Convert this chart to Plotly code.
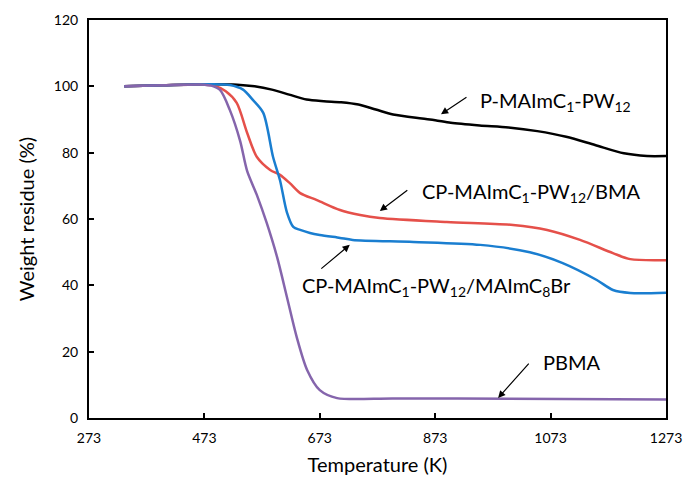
import plotly.graph_objects as go

# ---- data ----
t_black = [334, 400, 473, 530, 560, 590, 620, 650, 680, 710, 740, 770, 800, 850, 873, 900, 950, 1000, 1050, 1100, 1150, 1200, 1240, 1273]
w_black = [100, 100.3, 100.6, 100.5, 100, 99, 97.5, 96, 95.5, 95.2, 94.5, 93, 91.5, 90.3, 89.8, 89, 88.2, 87.6, 86.5, 84.8, 82.3, 79.8, 79, 79]

t_red = [334, 400, 473, 490, 510, 529, 547, 564, 587, 604, 621, 639, 668, 708, 743, 777, 893, 1008, 1067, 1124, 1181, 1211, 1273]
w_red = [100, 100.3, 100.5, 100.2, 98.5, 95, 86, 78.7, 74.8, 73.3, 70.8, 67.8, 65.7, 62.7, 61.2, 60.3, 59.1, 58.2, 56.7, 53.7, 49.7, 47.9, 47.6]

t_blue = [334, 400, 473, 517, 540, 557, 575, 592, 604, 616, 627, 639, 656, 673, 708, 730, 835, 951, 1037, 1094, 1153, 1181, 1211, 1273]
w_blue = [100, 100.3, 100.6, 100.4, 99, 95.9, 92, 78.7, 71.7, 62, 57.6, 56.7, 55.8, 55.2, 54.3, 53.7, 53.1, 52.2, 50, 46.7, 41.6, 38.6, 37.7, 37.8]

t_purple = [334, 400, 473, 485, 500, 517, 535, 547, 564, 581, 599, 616, 633, 651, 673, 703, 800, 1000, 1273]
w_purple = [100, 100.3, 100.5, 100.2, 98.9, 92.9, 83.5, 74.5, 67.2, 58.8, 48.5, 36.5, 24.4, 14.5, 8.4, 6.0, 5.9, 5.8, 5.6]

x_ticks = [273, 473, 673, 873, 1073, 1273]
y_ticks = [0, 20, 40, 60, 80, 100, 120]

FONT = "Lato"

fig = go.Figure()
for t, w, c in [(t_black, w_black, "#000000"),
                (t_red, w_red, "#E5504A"),
                (t_blue, w_blue, "#1A7ED0"),
                (t_purple, w_purple, "#8565AC")]:
    fig.add_trace(go.Scatter(x=t, y=w, mode="lines",
                             line=dict(color=c, width=2.5, shape="spline", smoothing=0.8),
                             showlegend=False, hoverinfo="skip"))

# labels
labels = [
    ("P-MAImC<sub>1</sub>-PW<sub>12</sub>", 947, 95.3),
    ("CP-MAImC<sub>1</sub>-PW<sub>12</sub>/BMA", 847, 68.1),
    ("CP-MAImC<sub>1</sub>-PW<sub>12</sub>/MAImC<sub>8</sub>Br", 639, 39.8),
    ("PBMA", 1056, 16.9),
]
for txt, x, y in labels:
    fig.add_annotation(x=x, y=y, text=txt, showarrow=False, xanchor="left", yanchor="middle",
                       font=dict(family=FONT, size=20, color="#000000"))

# arrows (tip at data point, tail offset in pixels)
arrows = [(883, 91.6, 27, -18), (777, 62.4, 29, -22), (725, 52.2, -30, 25), (982, 6.0, 32, -36)]
for x, y, ax, ay in arrows:
    fig.add_annotation(x=x, y=y, ax=ax, ay=ay, text="", showarrow=True,
                       arrowhead=2, arrowsize=1.2, arrowwidth=1.2, arrowcolor="#000000")

fig.update_layout(
    width=684, height=482,
    margin=dict(l=89, r=18, t=20, b=64),
    plot_bgcolor="white", paper_bgcolor="white",
    font=dict(family=FONT, color="#000000"),
    xaxis=dict(range=[273, 1273], tickvals=x_ticks, ticktext=[str(v) for v in x_ticks],
               ticks="inside", ticklen=5, tickwidth=1.5, tickcolor="black",
               showline=True, linecolor="black", linewidth=2, mirror=True,
               showgrid=False, zeroline=False, ticklabelstandoff=6, automargin=False,
               tickfont=dict(size=14, family=FONT),
               title=dict(text="Temperature (K)", font=dict(size=20, family=FONT), standoff=13)),
    yaxis=dict(range=[0, 120], tickvals=y_ticks,
               ticks="inside", ticklen=5, tickwidth=1.5, tickcolor="black",
               showline=True, linecolor="black", linewidth=2, mirror=True,
               showgrid=False, zeroline=False, ticklabelstandoff=6, automargin=False,
               tickfont=dict(size=14, family=FONT),
               title=dict(text="Weight residue (%)", font=dict(size=20, family=FONT), standoff=14)),
)

fig.write_html("out.html")
